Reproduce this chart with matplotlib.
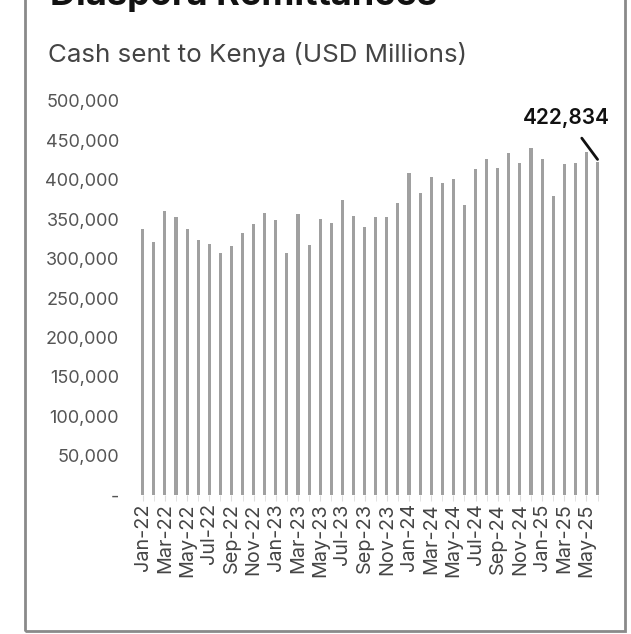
import matplotlib.pyplot as plt
from matplotlib.patches import Rectangle
from matplotlib.ticker import FuncFormatter

# monthly remittance inflows, Jan-22 .. Jun-25
months = [f"{m}-{y}" for y in ("22", "23", "24", "25")
          for m in ("Jan", "Feb", "Mar", "Apr", "May", "Jun",
                    "Jul", "Aug", "Sep", "Oct", "Nov", "Dec")][:42]
values = [337200, 321400, 360800, 353200, 337200, 323600, 318500, 306700,
          316000, 332900, 343900, 357500, 349000, 306700, 356600, 317250,
          350200, 345600, 374400, 354000, 339700, 353200, 353200, 370200,
          409000, 382800, 403100, 396300, 401000, 368000, 413300, 426000,
          414600, 433600, 420900, 440700, 426000, 379400, 420000, 420900,
          435600, 422834]
yticks = [0, 50000, 100000, 150000, 200000, 250000,
          300000, 350000, 400000, 450000, 500000]

plt.rcParams["font.family"] = ["Inter", "DejaVu Sans"]

fig = plt.figure(figsize=(6.31, 6.34), dpi=100)
ax = fig.add_axes([0.2086, 0.2192, 0.756, 0.6215])

x = list(range(len(values)))
ax.bar(x, values, width=0.28, color="#a0a0a0")

ax.set_xlim(-1, 42)
ax.set_ylim(0, 500000)
ax.set_yticks(yticks)
ax.yaxis.set_major_formatter(
    FuncFormatter(lambda v, p: "-" if v == 0 else f"{int(v):,}"))
ax.set_xticks(x[::2])
ax.set_xticklabels(months[::2], rotation=90)
ax.set_xticks(x, minor=True)

for s in ax.spines.values():
    s.set_visible(False)
ax.tick_params(axis="y", length=0, pad=9, labelsize=13, labelcolor="#555555")
ax.tick_params(axis="x", which="both", length=4, color="#dddddd",
               labelsize=14.3, labelcolor="#444444", pad=2)

# latest month callout
last = len(values) - 1
ax.annotate(f"{values[last]:,}", xy=(last, values[last] + 3000),
            xytext=(last - 2.8, 479000), ha="center", va="center",
            fontsize=15, fontweight="semibold", color="#111111",
            arrowprops=dict(arrowstyle="-", color="#111111", lw=2,
                            shrinkA=7, shrinkB=0),
            annotation_clip=False)

fig.text(0.079, 0.992, "Diaspora Remittances", fontsize=26,
         fontweight="bold", color="#111111", va="baseline")
fig.text(0.076, 0.914, "Cash sent to Kenya (USD Millions)", fontsize=18.7,
         color="#444444", va="center")

# card outline
fig.patches.append(Rectangle((25 / 631, 3 / 634), 600 / 631, 1.0,
                             transform=fig.transFigure, fill=False,
                             edgecolor="#8a8a8a", linewidth=2))

fig.savefig("out.png", dpi=100, facecolor="white")
